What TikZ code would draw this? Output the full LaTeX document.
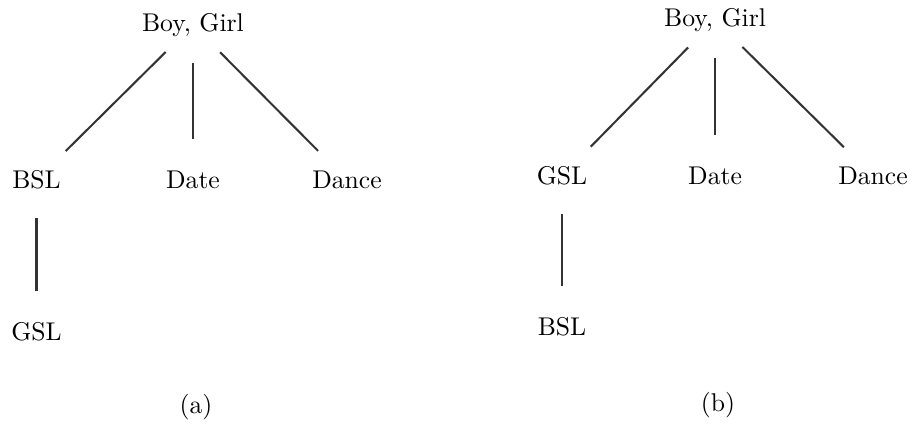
\documentclass[tikz,border=0pt]{standalone}
\usepackage{tikz}
\usetikzlibrary{calc}
\tikzstyle{branch}=[line width=0.8pt, black!80, shorten <=15pt, shorten >=16pt]
\tikzstyle{leaf}=[inner sep=0pt]

\begin{document}
\begin{tikzpicture}
	\useasboundingbox (0,0) rectangle (12.5,6.031);
	% tree (a)
	\node[leaf] (topa) at (2.645,5.689) {Boy, Girl};
	\node[leaf] (bsla) at (0.50,3.564) {BSL};
	\node[leaf] (datea) at (2.645,3.564) {Date};
	\node[leaf] (dancea) at (4.756,3.564) {Dance};
	\node[leaf] (gsla) at (0.50,1.480) {GSL};
	\draw[branch] (topa.center) -- (bsla.center);
	\draw[branch] (topa.center) -- (datea.center);
	\draw[branch] (topa.center) -- (dancea.center);
	\draw[branch] (bsla.center) -- (gsla.center);
	\node[leaf] (capa) at (2.687,0.452) {(a)};
	% tree (b)
	\node[leaf] (topb) at (9.801,5.757) {Boy, Girl};
	\node[leaf] (gslb) at (7.703,3.619) {GSL};
	\node[leaf] (dateb) at (9.801,3.619) {Date};
	\node[leaf] (danceb) at (11.966,3.619) {Dance};
	\node[leaf] (bslb) at (7.703,1.549) {BSL};
	\draw[branch] (topb.center) -- (gslb.center);
	\draw[branch] (topb.center) -- (dateb.center);
	\draw[branch] (topb.center) -- (danceb.center);
	\draw[branch] (gslb.center) -- (bslb.center);
	\node[leaf] (capb) at (9.842,0.48) {(b)};
\end{tikzpicture}
\end{document}
